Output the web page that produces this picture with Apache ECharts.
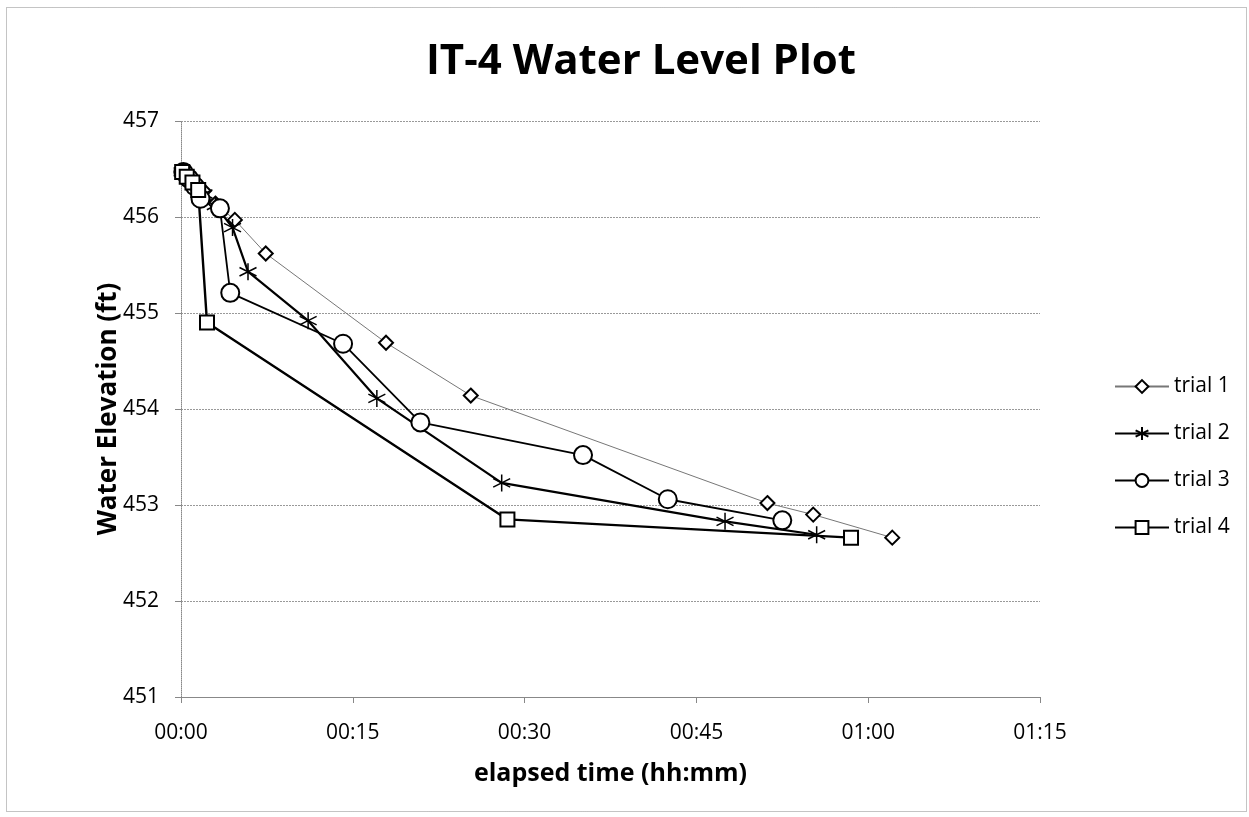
<!DOCTYPE html>
<html><head><meta charset="utf-8">
<script src="https://cdn.jsdelivr.net/npm/echarts@6/dist/echarts.min.js"></script>
<style>html,body{margin:0;padding:0;background:#fff}#c{width:1249px;height:817px}</style>
</head><body><div id="c"></div>
<script>
// elapsed time in minutes, water elevation in ft
const trial1Time  = [0.1, 0.5, 1.0, 1.5, 2.0, 3.0, 4.7, 7.4, 17.9, 25.3, 51.2, 55.2, 62.1];
const trial1Level = [456.47, 456.43, 456.38, 456.33, 456.27, 456.14, 455.97, 455.62, 454.69, 454.14, 453.02, 452.90, 452.66];
const trial2Time  = [0.1, 0.6, 1.2, 2.0, 3.0, 4.5, 5.85, 11.1, 17.1, 28.0, 47.5, 55.5];
const trial2Level = [456.47, 456.40, 456.33, 456.24, 456.12, 455.89, 455.43, 454.92, 454.11, 453.23, 452.83, 452.69];
const trial3Time  = [0.2, 0.7, 1.2, 1.7, 3.4, 4.3, 14.15, 20.9, 35.1, 42.5, 52.5];
const trial3Level = [456.47, 456.40, 456.32, 456.19, 456.09, 455.21, 454.68, 453.86, 453.52, 453.06, 452.84];
const trial4Time  = [0.1, 0.5, 1.0, 1.5, 2.27, 28.5, 58.5];
const trial4Level = [456.47, 456.42, 456.36, 456.28, 454.90, 452.85, 452.66];
const seriesNames = ['trial 1', 'trial 2', 'trial 3', 'trial 4'];

const pairs = (t, v) => t.map((x, i) => [x, v[i]]);
const fmt = m => { const h = Math.floor(m / 60), mm = Math.round(m % 60); return String(h).padStart(2,'0') + ':' + String(mm).padStart(2,'0'); };
const FONT = 'Open Sans';
const asterisk = 'path://M5,0L5,10M0.67,2.5L9.33,7.5M0.67,7.5L9.33,2.5';

const chart = echarts.init(document.getElementById('c'));
chart.setOption({
  animation: false,
  backgroundColor: '#fff',
  textStyle: { fontFamily: FONT },
  graphic: [{ type: 'rect', shape: { x: 6.5, y: 7.5, width: 1240, height: 804 }, style: { fill: 'none', stroke: '#888', lineWidth: 1, lineDash: [1, 1] } }],
  title: { text: 'IT-4 Water Level Plot', left: 636, top: 36, textAlign: 'center',
    textStyle: { fontFamily: FONT, fontWeight: 'bold', fontSize: 42, color: '#000' } },
  legend: {
    orient: 'vertical', left: 1109, top: 371, itemGap: 26, itemWidth: 54, itemHeight: 16,
    textStyle: { fontFamily: FONT, fontSize: 21, color: '#000' },
    data: seriesNames
  },
  grid: { left: 181, top: 121, width: 859, height: 576 },
  xAxis: {
    type: 'value', min: 0, max: 75, interval: 15,
    name: 'elapsed time (hh:mm)', nameLocation: 'middle', nameGap: 64,
    nameTextStyle: { fontFamily: FONT, fontWeight: 'bold', fontSize: 25, color: '#000' },
    axisLine: { lineStyle: { color: '#888', width: 1 } },
    axisTick: { show: true, length: 6, lineStyle: { color: '#888' } },
    axisLabel: { formatter: fmt, fontSize: 21, color: '#000', margin: 26, fontFamily: FONT },
    splitLine: { show: false }
  },
  yAxis: {
    type: 'value', min: 451, max: 457, interval: 1,
    name: 'Water Elevation (ft)', nameLocation: 'middle', nameGap: 59, nameMoveOverlap: false,
    nameTextStyle: { fontFamily: FONT, fontWeight: 'bold', fontSize: 26, color: '#000' },
    axisLine: { show: true, lineStyle: { color: '#888', width: 1, type: 'dotted' } },
    axisTick: { show: true, length: 6, lineStyle: { color: '#888' } },
    axisLabel: { fontSize: 21, color: '#000', margin: 22, fontFamily: FONT },
    splitLine: { show: true, lineStyle: { color: '#999', width: 1, type: [2, 1] } }
  },
  series: [
    { name: seriesNames[0], type: 'line', data: pairs(trial1Time, trial1Level),
      symbol: 'emptyDiamond', symbolSize: 14,
      lineStyle: { color: '#777', width: 1 }, itemStyle: { color: '#000', borderColor: '#000', borderWidth: 1.2 } },
    { name: seriesNames[1], type: 'line', data: pairs(trial2Time, trial2Level),
      symbol: asterisk, symbolSize: 17,
      lineStyle: { color: '#000', width: 2.2 }, itemStyle: { color: 'none', borderColor: '#000', borderWidth: 1.5 } },
    { name: seriesNames[2], type: 'line', data: pairs(trial3Time, trial3Level),
      symbol: 'emptyCircle', symbolSize: 18,
      lineStyle: { color: '#000', width: 1.8 }, itemStyle: { color: '#000', borderColor: '#000', borderWidth: 1.8 } },
    { name: seriesNames[3], type: 'line', data: pairs(trial4Time, trial4Level),
      symbol: 'emptyRect', symbolSize: 14,
      lineStyle: { color: '#000', width: 2.4 }, itemStyle: { color: '#000', borderColor: '#000', borderWidth: 1.8 } }
  ]
});
</script></body></html>
